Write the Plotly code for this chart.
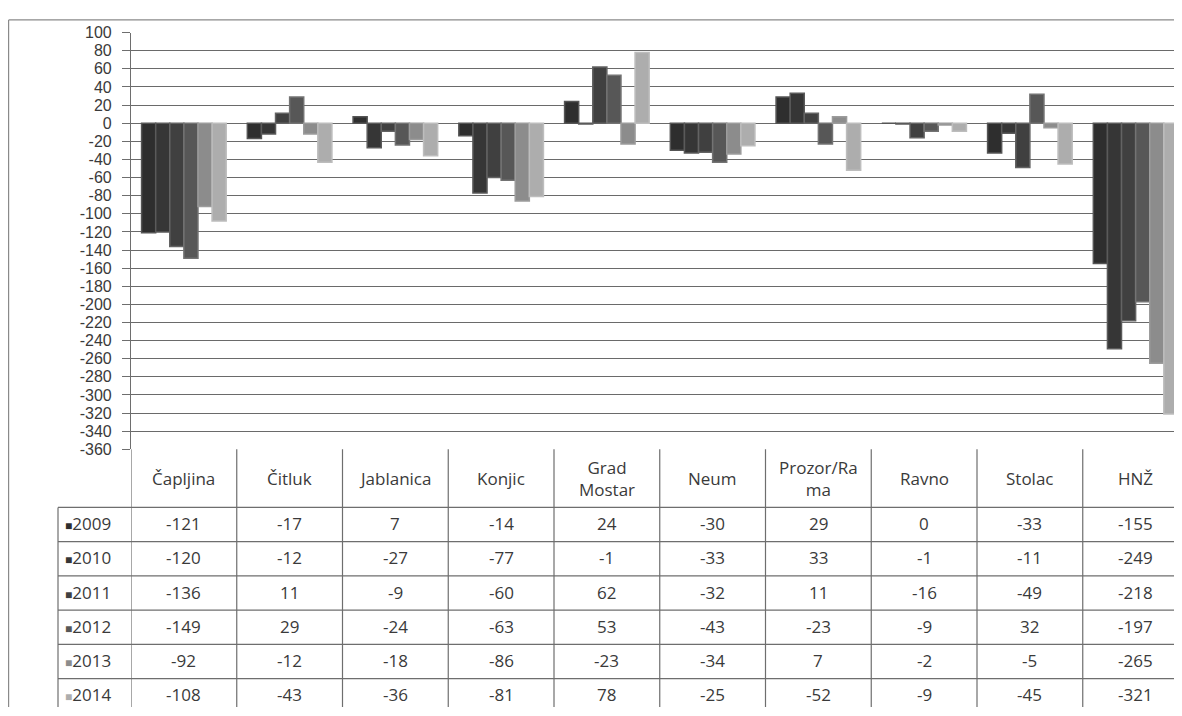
import plotly.graph_objects as go

categories = ["Čapljina", "Čitluk", "Jablanica", "Konjic", "Grad Mostar", "Neum",
              "Prozor/Rama", "Ravno", "Stolac", "HNŽ"]
header_labels = ["Čapljina", "Čitluk", "Jablanica", "Konjic", "Grad<br>Mostar", "Neum",
                 "Prozor/Ra<br>ma", "Ravno", "Stolac", "HNŽ"]
years = ["2009", "2010", "2011", "2012", "2013", "2014"]
v2009 = [-121, -17, 7, -14, 24, -30, 29, 0, -33, -155]
v2010 = [-120, -12, -27, -77, -1, -33, 33, -1, -11, -249]
v2011 = [-136, 11, -9, -60, 62, -32, 11, -16, -49, -218]
v2012 = [-149, 29, -24, -63, 53, -43, -23, -9, 32, -197]
v2013 = [-92, -12, -18, -86, -23, -34, 7, -2, -5, -265]
v2014 = [-108, -43, -36, -81, 78, -25, -52, -9, -45, -321]
series = [v2009, v2010, v2011, v2012, v2013, v2014]
colors = ["#2e2e2e", "#363636", "#404040", "#575757", "#8c8c8c", "#adadad"]
edge_colors = ["#555555", "#5a5a5a", "#636363", "#737373", "#9c9c9c", "#bdbdbd"]
yticks = list(range(-360, 101, 20))

# the page has an 8px body margin; figure placed so page pixels match the reference
OX, OY = 8, 8
W = 1182 - 2 * OX
H = 716 - OY


def px(rx):
    return (rx - OX) / W


def py(ry):
    return 1 - (ry - OY) / H


fig = go.Figure()
for yr, vals, c, ec in zip(years, series, colors, edge_colors):
    fig.add_trace(go.Bar(x=categories, y=vals, name=yr,
                         marker=dict(color=c, line=dict(color=ec, width=1.5)),
                         showlegend=False))

line_col = "#6e6e6e"
font_fam = "Open Sans, Noto Sans, sans-serif"
txt_col = "#3a3a3a"
tsize = 17
shapes = []
annotations = []

table_top = 452
header_bottom = 511.5
row_h = 35.1
legend_left = 58
row_tops = [header_bottom + i * row_h for i in range(len(years))]

for i in range(len(categories) + 1):
    shapes.append(dict(type="line", xref="x", yref="paper", x0=i - 0.5, x1=i - 0.5,
                       y0=py(table_top), y1=0, line=dict(color=line_col, width=1.2)))
for t in row_tops:
    shapes.append(dict(type="line", xref="paper", yref="paper", x0=px(legend_left), x1=1,
                       y0=py(t), y1=py(t), line=dict(color=line_col, width=1.2)))
shapes.append(dict(type="line", xref="paper", yref="paper", x0=px(legend_left), x1=px(legend_left),
                   y0=py(header_bottom), y1=0, line=dict(color=line_col, width=1.2)))
# outer chart border
shapes.append(dict(type="line", xref="paper", yref="paper", x0=px(8.6), x1=1, y0=py(12), y1=py(12),
                   line=dict(color="#8a8a8a", width=1.2)))
shapes.append(dict(type="line", xref="paper", yref="paper", x0=px(8.6), x1=px(8.6), y0=py(12), y1=0,
                   line=dict(color="#8a8a8a", width=1.2)))

for cat, lab in zip(categories, header_labels):
    annotations.append(dict(x=cat, xref="x", y=py(482), yref="paper",
                            text=lab, showarrow=False, font=dict(size=tsize, color=txt_col, family=font_fam),
                            xanchor="center", yanchor="middle"))
for r, (yr, vals, c) in enumerate(zip(years, series, colors)):
    yc = py(row_tops[r] + row_h / 2 - 1)
    for cat, v in zip(categories, vals):
        annotations.append(dict(x=cat, xref="x", y=yc, yref="paper", text=str(v), showarrow=False,
                                font=dict(size=tsize, color=txt_col, family=font_fam),
                                xanchor="center", yanchor="middle"))
    annotations.append(dict(x=px(legend_left + 5), xref="paper", y=yc, yref="paper",
                            text=f"<span style='color:{c};font-size:12px'>■</span>{yr}", showarrow=False,
                            font=dict(size=tsize, color=txt_col, family=font_fam),
                            xanchor="left", yanchor="middle"))

plot_left = 131
col_w = 105.75
x_right = -0.5 + (1182 - OX - plot_left) / col_w

fig.update_layout(
    width=W, height=H,
    margin=dict(l=0, r=0, t=0, b=0),
    paper_bgcolor="white", plot_bgcolor="white",
    barmode="group", bargap=0.2, bargroupgap=0,
    xaxis=dict(domain=[px(plot_left), 1], range=[-0.5, x_right], showticklabels=False,
               showgrid=False, zeroline=False, showline=False, ticks=""),
    yaxis=dict(domain=[py(table_top), py(25)], range=[-360, 100], tickvals=yticks,
               ticktext=[str(t) for t in yticks], showgrid=True, gridcolor="#6a6a6a", gridwidth=1,
               zeroline=False, showline=True, linecolor=line_col, linewidth=1.2,
               ticks="outside", ticklen=8, tickcolor=line_col, ticklabelstandoff=7,
               tickfont=dict(size=16, color=txt_col, family="Liberation Sans, Arial, sans-serif")),
    shapes=shapes, annotations=annotations,
)

fig.write_html("out.html")
